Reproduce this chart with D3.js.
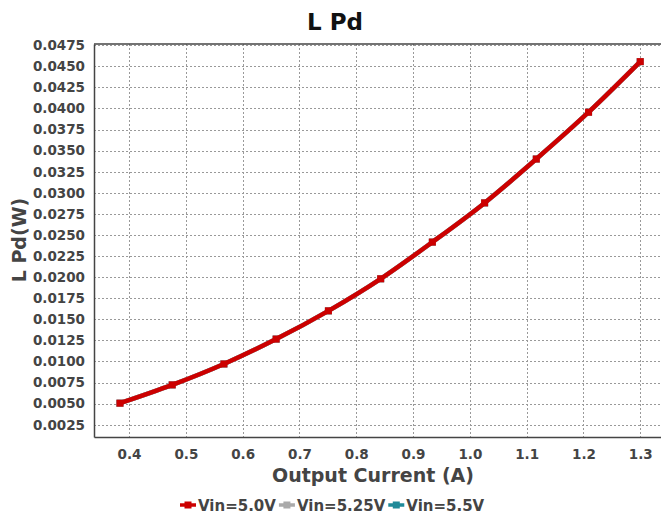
<!DOCTYPE html>
<html><head><meta charset="utf-8">
<script src="https://cdn.jsdelivr.net/npm/d3@7"></script>
<style>body{margin:0;background:#fff}svg{display:block;font-family:"DejaVu Sans",sans-serif}</style>
</head><body><div id="chart"></div>
<script>
const current = [0.384, 0.476, 0.567, 0.659, 0.751, 0.843, 0.934, 1.026, 1.117, 1.209, 1.300];
const vin50  = [0.00505, 0.00722, 0.00970, 0.01265, 0.01600, 0.01980, 0.02415, 0.02880, 0.03400, 0.03955, 0.04555];
const vin525 = [0.00505, 0.00722, 0.00970, 0.01265, 0.01600, 0.01980, 0.02415, 0.02880, 0.03400, 0.03955, 0.04555];
const vin55  = [0.00505, 0.00722, 0.00970, 0.01265, 0.01600, 0.01980, 0.02415, 0.02880, 0.03400, 0.03955, 0.04555];
const seriesNames = ["Vin=5.0V", "Vin=5.25V", "Vin=5.5V"];
const xTicks = [0.4, 0.5, 0.6, 0.7, 0.8, 0.9, 1.0, 1.1, 1.2, 1.3];
const yTicks = [0.0025, 0.005, 0.0075, 0.01, 0.0125, 0.015, 0.0175, 0.02, 0.0225, 0.025, 0.0275, 0.03, 0.0325, 0.035, 0.0375, 0.04, 0.0425, 0.045, 0.0475];

const colors = ["#cc0000", "#aaaaaa", "#1f8a99"];
const W = 661, H = 515;
const m = {left: 94, top: 44, right: 662, bottom: 437};
const svg = d3.select("#chart").append("svg").attr("width", W).attr("height", H);

const x = d3.scaleLinear().domain([0.3383, 1.3383]).range([m.left, m.right]);
const y = d3.scaleLinear().domain([0.00104, 0.04764]).range([m.bottom, m.top]);

// grid
svg.append("g").selectAll("line").data(xTicks).join("line")
  .attr("x1", d => Math.round(x(d)) + 0.5).attr("x2", d => Math.round(x(d)) + 0.5).attr("y1", m.top).attr("y2", m.bottom)
  .attr("stroke", "#999").attr("stroke-width", 1).attr("stroke-dasharray", "2,2");
svg.append("g").selectAll("line").data(yTicks).join("line")
  .attr("x1", m.left).attr("x2", m.right).attr("y1", d => Math.round(y(d)) + 0.5).attr("y2", d => Math.round(y(d)) + 0.5)
  .attr("stroke", "#999").attr("stroke-width", 1).attr("stroke-dasharray", "2,2");

// axes
const xAxis = svg.append("g").attr("transform", `translate(0,${m.bottom})`)
  .call(d3.axisBottom(x).tickValues(xTicks).tickFormat(d3.format(".1f")).tickSize(0).tickPadding(12));
const yAxis = svg.append("g").attr("transform", `translate(${m.left},0)`)
  .call(d3.axisLeft(y).tickValues(yTicks).tickFormat(d3.format(".4f")).tickSize(0).tickPadding(9));
[xAxis, yAxis].forEach(a => {
  a.select(".domain").attr("stroke", "#444").attr("stroke-width", 1.5);
  a.selectAll("text").attr("font-family", "DejaVu Sans").attr("font-weight", "bold")
    .attr("font-size", 13.5).attr("fill", "#444");
});
svg.append("line").attr("x1", m.left).attr("x2", m.right).attr("y1", m.top).attr("y2", m.top)
  .attr("stroke", "#444").attr("stroke-width", 1.5);

// series
const allSeries = [vin55, vin525, vin50];
const allColors = [colors[2], colors[1], colors[0]];
const line = d3.line().x((d, i) => x(current[i])).y(d => y(d)).curve(d3.curveMonotoneX);
allSeries.forEach((s, k) => {
  svg.append("path").datum(s).attr("d", line).attr("fill", "none")
    .attr("stroke", allColors[k]).attr("stroke-width", 4.5);
  svg.append("g").selectAll("rect").data(s).join("rect")
    .attr("x", (d, i) => x(current[i]) - 3.5).attr("y", d => y(d) - 3.5)
    .attr("width", 7).attr("height", 7).attr("fill", allColors[k]);
});

// title & labels
svg.append("text").attr("x", 335).attr("y", 30).attr("text-anchor", "middle")
  .attr("font-weight", "bold").attr("font-size", 23).attr("fill", "#111").text("L Pd");
svg.append("text").attr("x", 373).attr("y", 482).attr("text-anchor", "middle")
  .attr("font-weight", "bold").attr("font-size", 19).attr("fill", "#444").text("Output Current (A)");
svg.append("text").attr("transform", "translate(26,240) rotate(-90)").attr("text-anchor", "middle")
  .attr("font-weight", "bold").attr("font-size", 19).attr("fill", "#444").text("L Pd(W)");

// legend
const legend = svg.append("g").attr("transform", "translate(180,505)");
let lx = 0;
seriesNames.forEach((n, k) => {
  const g = legend.append("g").attr("transform", `translate(${lx},0)`);
  g.append("line").attr("x1", 0).attr("x2", 16).attr("y1", 0).attr("y2", 0)
    .attr("stroke", colors[k]).attr("stroke-width", 3.5);
  g.append("rect").attr("x", 4.5).attr("y", -3.5).attr("width", 7).attr("height", 7).attr("fill", colors[k]);
  const t = g.append("text").attr("x", 18).attr("y", 5.5).attr("font-weight", "bold").attr("font-size", 15)
    .attr("fill", "#444").text(n);
  lx += 18 + t.node().getComputedTextLength() + 3;
});
</script></body></html>
